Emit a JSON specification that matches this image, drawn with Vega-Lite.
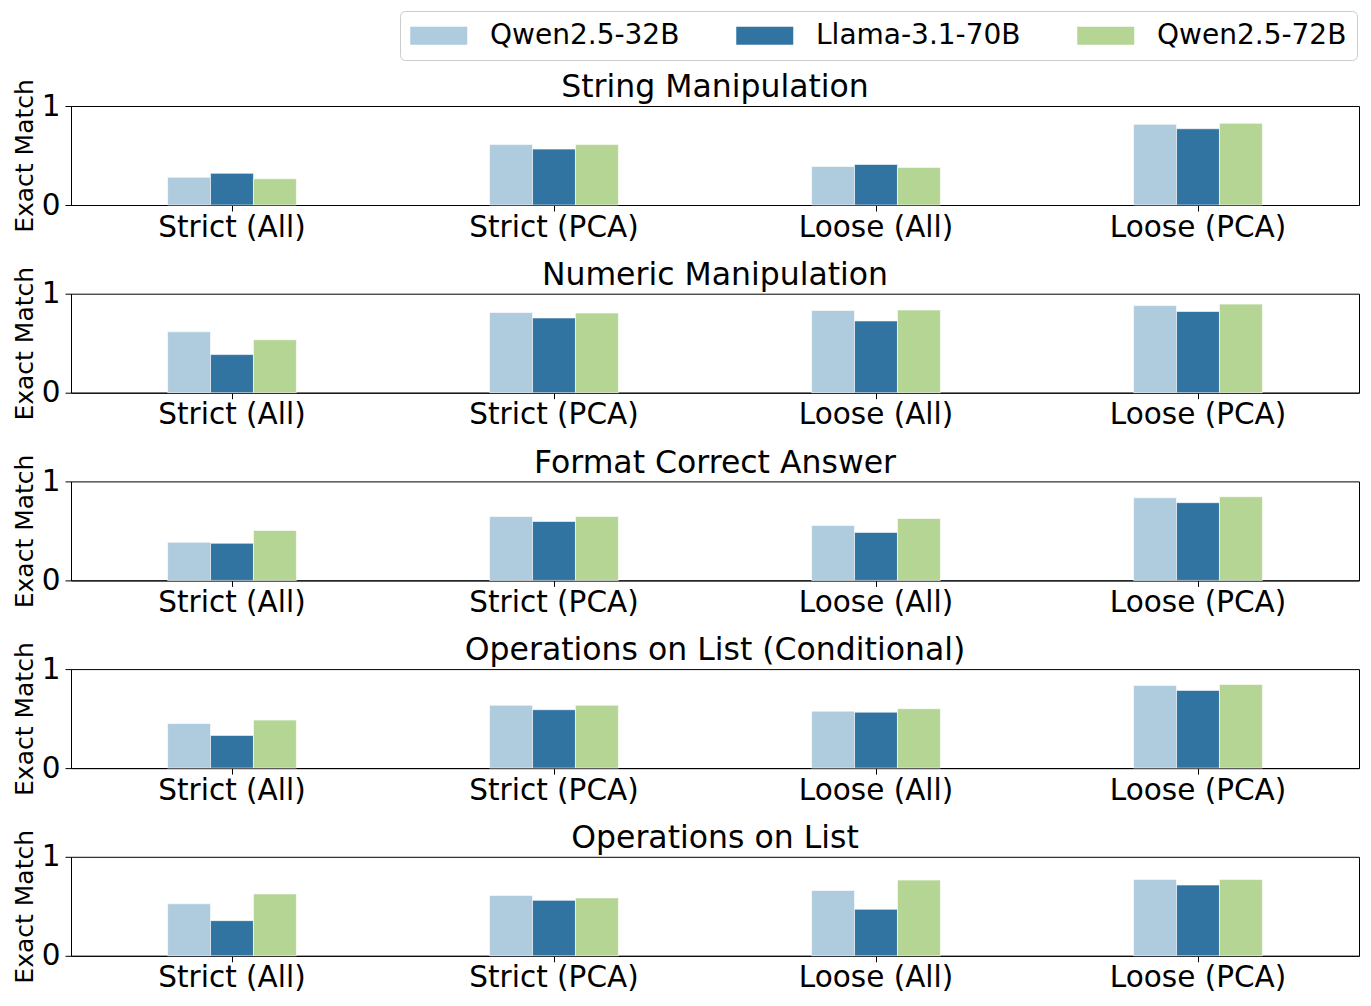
{
  "$schema": "https://vega.github.io/schema/vega-lite/v6.json",
  "padding": {"left": 11, "top": 10, "right": 10, "bottom": 5},
  "background": "white",
  "data": {"values": [
    {"task":"String Manipulation","metric":"Strict (All)","model":"Qwen2.5-32B","value":0.28},
    {"task":"String Manipulation","metric":"Strict (All)","model":"Llama-3.1-70B","value":0.32},
    {"task":"String Manipulation","metric":"Strict (All)","model":"Qwen2.5-72B","value":0.265},
    {"task":"String Manipulation","metric":"Strict (PCA)","model":"Qwen2.5-32B","value":0.61},
    {"task":"String Manipulation","metric":"Strict (PCA)","model":"Llama-3.1-70B","value":0.565},
    {"task":"String Manipulation","metric":"Strict (PCA)","model":"Qwen2.5-72B","value":0.61},
    {"task":"String Manipulation","metric":"Loose (All)","model":"Qwen2.5-32B","value":0.39},
    {"task":"String Manipulation","metric":"Loose (All)","model":"Llama-3.1-70B","value":0.41},
    {"task":"String Manipulation","metric":"Loose (All)","model":"Qwen2.5-72B","value":0.38},
    {"task":"String Manipulation","metric":"Loose (PCA)","model":"Qwen2.5-32B","value":0.815},
    {"task":"String Manipulation","metric":"Loose (PCA)","model":"Llama-3.1-70B","value":0.77},
    {"task":"String Manipulation","metric":"Loose (PCA)","model":"Qwen2.5-72B","value":0.825},

    {"task":"Numeric Manipulation","metric":"Strict (All)","model":"Qwen2.5-32B","value":0.615},
    {"task":"Numeric Manipulation","metric":"Strict (All)","model":"Llama-3.1-70B","value":0.385},
    {"task":"Numeric Manipulation","metric":"Strict (All)","model":"Qwen2.5-72B","value":0.535},
    {"task":"Numeric Manipulation","metric":"Strict (PCA)","model":"Qwen2.5-32B","value":0.81},
    {"task":"Numeric Manipulation","metric":"Strict (PCA)","model":"Llama-3.1-70B","value":0.755},
    {"task":"Numeric Manipulation","metric":"Strict (PCA)","model":"Qwen2.5-72B","value":0.805},
    {"task":"Numeric Manipulation","metric":"Loose (All)","model":"Qwen2.5-32B","value":0.83},
    {"task":"Numeric Manipulation","metric":"Loose (All)","model":"Llama-3.1-70B","value":0.725},
    {"task":"Numeric Manipulation","metric":"Loose (All)","model":"Qwen2.5-72B","value":0.835},
    {"task":"Numeric Manipulation","metric":"Loose (PCA)","model":"Qwen2.5-32B","value":0.88},
    {"task":"Numeric Manipulation","metric":"Loose (PCA)","model":"Llama-3.1-70B","value":0.82},
    {"task":"Numeric Manipulation","metric":"Loose (PCA)","model":"Qwen2.5-72B","value":0.895},

    {"task":"Format Correct Answer","metric":"Strict (All)","model":"Qwen2.5-32B","value":0.385},
    {"task":"Format Correct Answer","metric":"Strict (All)","model":"Llama-3.1-70B","value":0.375},
    {"task":"Format Correct Answer","metric":"Strict (All)","model":"Qwen2.5-72B","value":0.505},
    {"task":"Format Correct Answer","metric":"Strict (PCA)","model":"Qwen2.5-32B","value":0.645},
    {"task":"Format Correct Answer","metric":"Strict (PCA)","model":"Llama-3.1-70B","value":0.595},
    {"task":"Format Correct Answer","metric":"Strict (PCA)","model":"Qwen2.5-72B","value":0.645},
    {"task":"Format Correct Answer","metric":"Loose (All)","model":"Qwen2.5-32B","value":0.555},
    {"task":"Format Correct Answer","metric":"Loose (All)","model":"Llama-3.1-70B","value":0.485},
    {"task":"Format Correct Answer","metric":"Loose (All)","model":"Qwen2.5-72B","value":0.625},
    {"task":"Format Correct Answer","metric":"Loose (PCA)","model":"Qwen2.5-32B","value":0.835},
    {"task":"Format Correct Answer","metric":"Loose (PCA)","model":"Llama-3.1-70B","value":0.785},
    {"task":"Format Correct Answer","metric":"Loose (PCA)","model":"Qwen2.5-72B","value":0.845},

    {"task":"Operations on List (Conditional)","metric":"Strict (All)","model":"Qwen2.5-32B","value":0.45},
    {"task":"Operations on List (Conditional)","metric":"Strict (All)","model":"Llama-3.1-70B","value":0.33},
    {"task":"Operations on List (Conditional)","metric":"Strict (All)","model":"Qwen2.5-72B","value":0.485},
    {"task":"Operations on List (Conditional)","metric":"Strict (PCA)","model":"Qwen2.5-32B","value":0.635},
    {"task":"Operations on List (Conditional)","metric":"Strict (PCA)","model":"Llama-3.1-70B","value":0.59},
    {"task":"Operations on List (Conditional)","metric":"Strict (PCA)","model":"Qwen2.5-72B","value":0.635},
    {"task":"Operations on List (Conditional)","metric":"Loose (All)","model":"Qwen2.5-32B","value":0.575},
    {"task":"Operations on List (Conditional)","metric":"Loose (All)","model":"Llama-3.1-70B","value":0.565},
    {"task":"Operations on List (Conditional)","metric":"Loose (All)","model":"Qwen2.5-72B","value":0.6},
    {"task":"Operations on List (Conditional)","metric":"Loose (PCA)","model":"Qwen2.5-32B","value":0.835},
    {"task":"Operations on List (Conditional)","metric":"Loose (PCA)","model":"Llama-3.1-70B","value":0.785},
    {"task":"Operations on List (Conditional)","metric":"Loose (PCA)","model":"Qwen2.5-72B","value":0.845},

    {"task":"Operations on List","metric":"Strict (All)","model":"Qwen2.5-32B","value":0.525},
    {"task":"Operations on List","metric":"Strict (All)","model":"Llama-3.1-70B","value":0.355},
    {"task":"Operations on List","metric":"Strict (All)","model":"Qwen2.5-72B","value":0.625},
    {"task":"Operations on List","metric":"Strict (PCA)","model":"Qwen2.5-32B","value":0.61},
    {"task":"Operations on List","metric":"Strict (PCA)","model":"Llama-3.1-70B","value":0.56},
    {"task":"Operations on List","metric":"Strict (PCA)","model":"Qwen2.5-72B","value":0.585},
    {"task":"Operations on List","metric":"Loose (All)","model":"Qwen2.5-32B","value":0.66},
    {"task":"Operations on List","metric":"Loose (All)","model":"Llama-3.1-70B","value":0.47},
    {"task":"Operations on List","metric":"Loose (All)","model":"Qwen2.5-72B","value":0.765},
    {"task":"Operations on List","metric":"Loose (PCA)","model":"Qwen2.5-32B","value":0.77},
    {"task":"Operations on List","metric":"Loose (PCA)","model":"Llama-3.1-70B","value":0.715},
    {"task":"Operations on List","metric":"Loose (PCA)","model":"Qwen2.5-72B","value":0.77}
  ]},
  "bounds": "flush",
  "spacing": 88.7,
  "vconcat": [
    {
      "title": "String Manipulation",
      "width": 1288, "height": 99,
      "transform": [{"filter": "datum.task === 'String Manipulation'"}],
      "mark": {"type": "bar", "stroke": "white", "strokeWidth": 0.6},
      "encoding": {
        "x": {"field": "metric", "type": "nominal", "sort": ["Strict (All)", "Strict (PCA)", "Loose (All)", "Loose (PCA)"], "scale": {"paddingInner": 0.6, "paddingOuter": 0.3}, "axis": {"title": null, "labelAngle": 0}},
        "xOffset": {"field": "model", "type": "nominal", "sort": ["Qwen2.5-32B", "Llama-3.1-70B", "Qwen2.5-72B"], "scale": {"paddingInner": 0, "paddingOuter": 0}},
        "y": {"field": "value", "type": "quantitative", "scale": {"domain": [0, 1]}, "axis": {"values": [0, 1], "format": "d", "title": "Exact Match", "grid": false, "labelPadding": 5}},
        "color": {"field": "model", "type": "nominal", "sort": ["Qwen2.5-32B", "Llama-3.1-70B", "Qwen2.5-72B"], "scale": {"domain": ["Qwen2.5-32B", "Llama-3.1-70B", "Qwen2.5-72B"], "range": ["#afcbde", "#3274a1", "#b5d595"]},
          "legend": {"title": null, "orient": "none", "legendX": 329, "legendY": -95, "direction": "horizontal", "symbolType": "M-1,-0.632H3V0.632H-1Z", "symbolSize": 812, "symbolStrokeWidth": 0, "labelFontSize": 28, "labelFont": "DejaVu Sans", "labelColor": "black", "labelOffset": 51, "labelLimit": 0, "columnPadding": 56, "padding": 10, "strokeColor": "#cccccc", "cornerRadius": 5, "fillColor": "white"}}
      }
    },
    {
      "title": "Numeric Manipulation",
      "width": 1288, "height": 99,
      "transform": [{"filter": "datum.task === 'Numeric Manipulation'"}],
      "mark": {"type": "bar", "stroke": "white", "strokeWidth": 0.6},
      "encoding": {
        "x": {"field": "metric", "type": "nominal", "sort": ["Strict (All)", "Strict (PCA)", "Loose (All)", "Loose (PCA)"], "scale": {"paddingInner": 0.6, "paddingOuter": 0.3}, "axis": {"title": null, "labelAngle": 0}},
        "xOffset": {"field": "model", "type": "nominal", "sort": ["Qwen2.5-32B", "Llama-3.1-70B", "Qwen2.5-72B"], "scale": {"paddingInner": 0, "paddingOuter": 0}},
        "y": {"field": "value", "type": "quantitative", "scale": {"domain": [0, 1]}, "axis": {"values": [0, 1], "format": "d", "title": "Exact Match", "grid": false, "labelPadding": 5}},
        "color": {"field": "model", "type": "nominal", "sort": ["Qwen2.5-32B", "Llama-3.1-70B", "Qwen2.5-72B"], "scale": {"domain": ["Qwen2.5-32B", "Llama-3.1-70B", "Qwen2.5-72B"], "range": ["#afcbde", "#3274a1", "#b5d595"]}}
      }
    },
    {
      "title": "Format Correct Answer",
      "width": 1288, "height": 99,
      "transform": [{"filter": "datum.task === 'Format Correct Answer'"}],
      "mark": {"type": "bar", "stroke": "white", "strokeWidth": 0.6},
      "encoding": {
        "x": {"field": "metric", "type": "nominal", "sort": ["Strict (All)", "Strict (PCA)", "Loose (All)", "Loose (PCA)"], "scale": {"paddingInner": 0.6, "paddingOuter": 0.3}, "axis": {"title": null, "labelAngle": 0}},
        "xOffset": {"field": "model", "type": "nominal", "sort": ["Qwen2.5-32B", "Llama-3.1-70B", "Qwen2.5-72B"], "scale": {"paddingInner": 0, "paddingOuter": 0}},
        "y": {"field": "value", "type": "quantitative", "scale": {"domain": [0, 1]}, "axis": {"values": [0, 1], "format": "d", "title": "Exact Match", "grid": false, "labelPadding": 5}},
        "color": {"field": "model", "type": "nominal", "sort": ["Qwen2.5-32B", "Llama-3.1-70B", "Qwen2.5-72B"], "scale": {"domain": ["Qwen2.5-32B", "Llama-3.1-70B", "Qwen2.5-72B"], "range": ["#afcbde", "#3274a1", "#b5d595"]}}
      }
    },
    {
      "title": "Operations on List (Conditional)",
      "width": 1288, "height": 99,
      "transform": [{"filter": "datum.task === 'Operations on List (Conditional)'"}],
      "mark": {"type": "bar", "stroke": "white", "strokeWidth": 0.6},
      "encoding": {
        "x": {"field": "metric", "type": "nominal", "sort": ["Strict (All)", "Strict (PCA)", "Loose (All)", "Loose (PCA)"], "scale": {"paddingInner": 0.6, "paddingOuter": 0.3}, "axis": {"title": null, "labelAngle": 0}},
        "xOffset": {"field": "model", "type": "nominal", "sort": ["Qwen2.5-32B", "Llama-3.1-70B", "Qwen2.5-72B"], "scale": {"paddingInner": 0, "paddingOuter": 0}},
        "y": {"field": "value", "type": "quantitative", "scale": {"domain": [0, 1]}, "axis": {"values": [0, 1], "format": "d", "title": "Exact Match", "grid": false, "labelPadding": 5}},
        "color": {"field": "model", "type": "nominal", "sort": ["Qwen2.5-32B", "Llama-3.1-70B", "Qwen2.5-72B"], "scale": {"domain": ["Qwen2.5-32B", "Llama-3.1-70B", "Qwen2.5-72B"], "range": ["#afcbde", "#3274a1", "#b5d595"]}}
      }
    },
    {
      "title": "Operations on List",
      "width": 1288, "height": 99,
      "transform": [{"filter": "datum.task === 'Operations on List'"}],
      "mark": {"type": "bar", "stroke": "white", "strokeWidth": 0.6},
      "encoding": {
        "x": {"field": "metric", "type": "nominal", "sort": ["Strict (All)", "Strict (PCA)", "Loose (All)", "Loose (PCA)"], "scale": {"paddingInner": 0.6, "paddingOuter": 0.3}, "axis": {"title": null, "labelAngle": 0}},
        "xOffset": {"field": "model", "type": "nominal", "sort": ["Qwen2.5-32B", "Llama-3.1-70B", "Qwen2.5-72B"], "scale": {"paddingInner": 0, "paddingOuter": 0}},
        "y": {"field": "value", "type": "quantitative", "scale": {"domain": [0, 1]}, "axis": {"values": [0, 1], "format": "d", "title": "Exact Match", "grid": false, "labelPadding": 5}},
        "color": {"field": "model", "type": "nominal", "sort": ["Qwen2.5-32B", "Llama-3.1-70B", "Qwen2.5-72B"], "scale": {"domain": ["Qwen2.5-32B", "Llama-3.1-70B", "Qwen2.5-72B"], "range": ["#afcbde", "#3274a1", "#b5d595"]}}
      }
    }
  ],
  "config": {
    "font": "DejaVu Sans",
    "view": {"stroke": "black", "strokeWidth": 1},
    "title": {"font": "DejaVu Sans", "fontSize": 31.5, "fontWeight": "normal", "color": "black", "offset": -25, "anchor": "middle", "frame": "group"},
    "axis": {"labelFont": "DejaVu Sans", "labelFontSize": 29.5, "labelColor": "black", "domainColor": "black", "tickColor": "black", "tickSize": 6, "labelPadding": 2, "titleFont": "DejaVu Sans", "titleFontSize": 25, "titleFontWeight": "normal", "titleColor": "black"}
  }
}
